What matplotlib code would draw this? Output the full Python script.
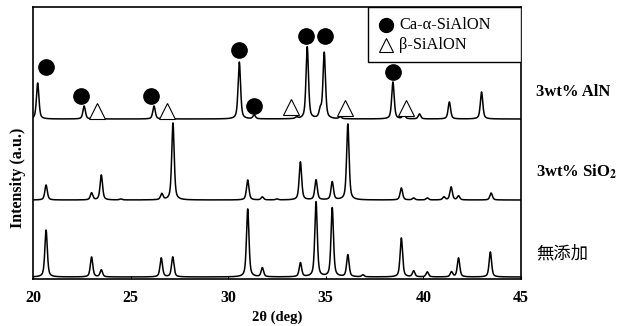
import numpy as np
import matplotlib
matplotlib.use("Agg")
import matplotlib.pyplot as plt
from matplotlib.patches import Rectangle

plt.rcParams["font.family"] = ["Liberation Serif", "Noto Sans CJK JP", "DejaVu Sans"]
plt.rcParams["mathtext.fontset"] = "stix"

# ---------------------------------------------------------------------------
# Datos (2θ en grados, intensidad en u.a.)
# ---------------------------------------------------------------------------

# 無添加 (sin aditivo)
base_none = 2
pos_none = [20.67, 23.0, 23.5, 26.57, 27.16, 31.0, 31.75, 33.7, 34.5, 35.33, 36.13,
            36.9, 38.87, 39.5, 40.2, 41.44, 41.8, 43.43]
h_none = [47, 20, 7, 19, 20, 68, 9, 14, 75, 69, 22, 2, 39, 6, 5, 5, 19, 25]

# 3wt% SiO2
base_sio2 = 79
pos_sio2 = [20.67, 23.0, 23.5, 24.5, 26.6, 27.17, 31.0, 31.75, 32.5, 33.7, 34.5,
            35.33, 36.13, 38.87, 39.5, 40.2, 41.05, 41.42, 41.8, 43.47]
h_sio2 = [15, 7, 25, 1, 6, 77, 20, 3, 1, 38, 20, 18, 76, 12, 2, 2, 3, 13, 4, 7]

# 3wt% AlN
base_aln = 160
pos_aln = [20.24, 22.62, 23.4, 26.2, 26.8, 30.57, 31.33, 33.5, 34.05, 34.72, 34.92,
           35.74, 38.44, 39.0, 39.8, 41.33, 42.98]
h_aln = [36, 13, 1.5, 13, 3, 57, 4, 1.5, 72, 8, 66, 2, 37, 5, 5, 17, 27]

# marcadores de fase
circ_x = [20.65, 22.45, 26.05, 30.56, 31.33, 34.0, 34.97, 38.43]
circ_y = [211.7, 183.3, 183.0, 229.0, 173.0, 243.0, 243.0, 207.3]
tri_x = [23.27, 26.86, 33.23, 35.96, 39.13]
tri_y = [168.3, 168.0, 172.0, 170.7, 170.7]

x_ticks = [20, 25, 30, 35, 40, 45]
phase_labels = ["Ca-α-SiAlON", "β-SiAlON"]
sample_labels = ["3wt% AlN", "3wt% SiO$_\\mathbf{2}$", "無添加"]
label_y = [92, 172, 253]  # posición vertical en píxeles de la figura


def perfil(x, posiciones, alturas, base, fwhm=0.15, eta=0.55):
    y = np.full_like(x, float(base))
    g = fwhm / 2.0
    for p, h in zip(posiciones, alturas):
        lor = 1.0 / (1.0 + ((x - p) / g) ** 2)
        gau = np.exp(-np.log(2) * ((x - p) / g) ** 2)
        y += h * (eta * lor + (1 - eta) * gau)
    return y


W, H = 631, 326
fig = plt.figure(figsize=(W / 100, H / 100), dpi=100)
ax = fig.add_axes([33 / W, (H - 279) / H, 488 / W, 272 / H])

x = np.linspace(20, 45, 6000)
for pos, hh, b in [(pos_none, h_none, base_none), (pos_sio2, h_sio2, base_sio2),
                   (pos_aln, h_aln, base_aln)]:
    ax.plot(x, perfil(x, pos, hh, b), color="black", lw=1.1)

ax.plot(circ_x, circ_y, "o", color="black", ms=11, ls="none")
ax.plot(tri_x, tri_y, "^", mfc="white", mec="black", mew=0.8, ms=11, ls="none")

ax.set_xlim(20, 45)
ax.set_ylim(0, 272)
ax.set_xticks(x_ticks)
ax.set_xticklabels([str(t) for t in x_ticks], fontweight="bold", fontsize=11.5)
ax.set_yticks([])
ax.tick_params(axis="x", direction="in", length=2, pad=8)
for s in ax.spines.values():
    s.set_linewidth(1.2)

ax.set_xlabel("2θ (deg)", fontweight="bold", fontsize=10.5, labelpad=3)
fig.text(18 / W, 1 - 178 / H, "Intensity (a.u.)", rotation=90, ha="center", va="center",
         fontweight="bold", fontsize=11.5)

# leyenda dibujada a mano (caja pegada a la esquina superior derecha)
ax.add_patch(Rectangle((0.686, 0.798), 0.314, 0.202, transform=ax.transAxes,
                       facecolor="white", edgecolor="black", lw=1.0, zorder=5))
ax.plot([0.723], [0.934], "o", color="black", ms=10, transform=ax.transAxes, zorder=6)
ax.plot([0.723], [0.860], "^", mfc="white", mec="black", mew=0.8, ms=10,
        transform=ax.transAxes, zorder=6)
for txt, yy in zip(phase_labels, [0.934, 0.860]):
    ax.text(0.750, yy, txt, transform=ax.transAxes, ha="left", va="center",
            fontsize=11.8, zorder=6)

for lab, yy in zip(sample_labels, label_y):
    if lab == "無添加":
        fig.text(536 / W, 1 - yy / H, lab, ha="left", va="center", fontsize=12.5,
                 family=["Noto Sans CJK JP"])
    else:
        fig.text(536 / W, 1 - yy / H, lab, ha="left", va="center", fontsize=12,
                 fontweight="bold")

fig.savefig("out.png", dpi=100)
